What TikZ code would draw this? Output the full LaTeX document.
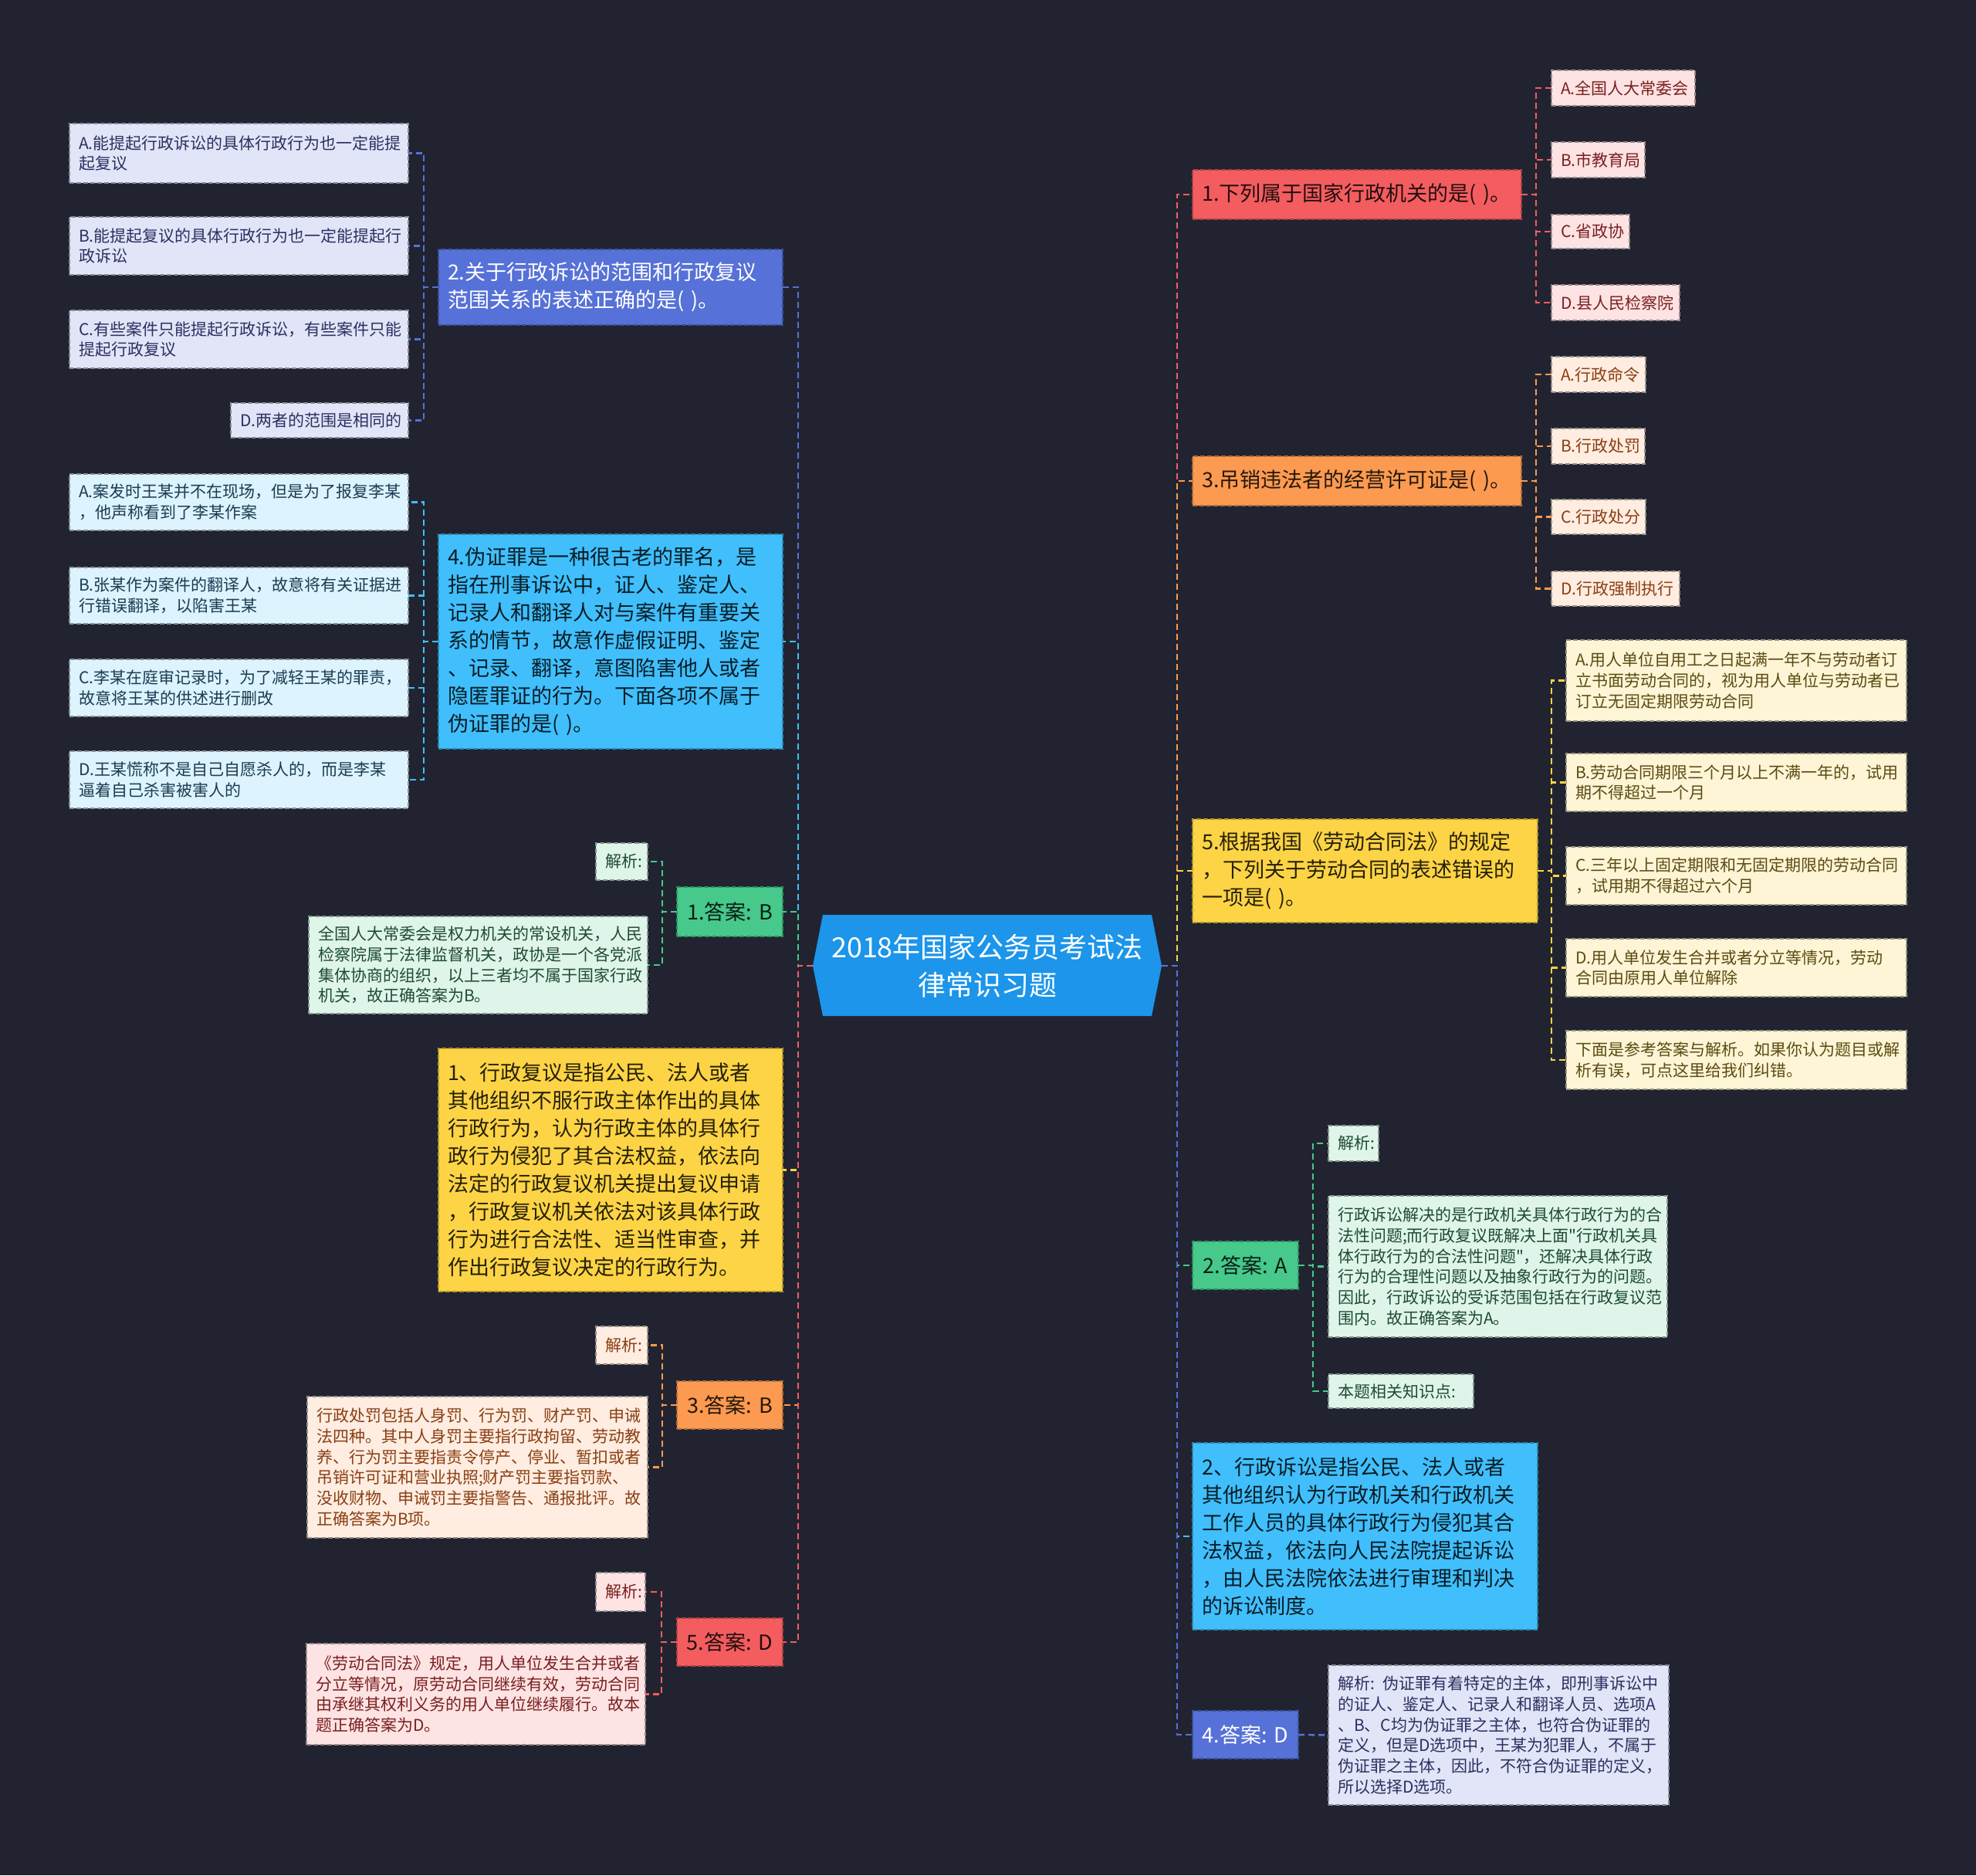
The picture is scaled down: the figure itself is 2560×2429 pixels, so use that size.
\documentclass[tikz,border=0pt]{standalone}
\usepackage{fontspec}
\setmainfont{Noto Sans CJK SC}
\newfontfamily\qfont{Noto Sans CJK SC}
\usetikzlibrary{calc}
\definecolor{bg}{HTML}{212430}
\definecolor{cRoot}{HTML}{1C95EA}
\definecolor{cRed}{HTML}{F35D60}
\definecolor{cOrange}{HTML}{FB9A50}
\definecolor{cYellow}{HTML}{FDD445}
\definecolor{cGreen}{HTML}{46C98B}
\definecolor{cCyan}{HTML}{40BFFC}
\definecolor{cBlue}{HTML}{5671D7}
\definecolor{lRed}{HTML}{FDE3E3}
\definecolor{tRed}{HTML}{7A1F1F}
\definecolor{lOrange}{HTML}{FEEDE0}
\definecolor{tOrange}{HTML}{8A3E14}
\definecolor{lYellow}{HTML}{FDF5D5}
\definecolor{tYellow}{HTML}{5C4A12}
\definecolor{lGreen}{HTML}{DFF5EA}
\definecolor{tGreen}{HTML}{1F4A35}
\definecolor{lCyan}{HTML}{DDF3FD}
\definecolor{tCyan}{HTML}{1B3C52}
\definecolor{lBlue}{HTML}{E1E5F7}
\definecolor{tBlue}{HTML}{2C3060}
\tikzset{
  basebox/.style={rectangle, inner xsep=12pt, inner ysep=0pt, outer sep=0pt,
    align=left, dash pattern=on 6pt off 3pt, line width=1.5pt},
  mainbox/.style 2 args={basebox, fill=#1, draw=#1!70!black, text=#2,
    font=\fontsize{27}{36}\selectfont},
  ansbox/.style 2 args={mainbox={#1}{#2}, align=center},
  subbox/.style 2 args={basebox, fill=#1, draw=#1!60!black, text=#2,
    font=\fontsize{21}{26.7}\selectfont},
  conn/.style={line width=2.5pt, dash pattern=on 8pt off 5pt, draw=#1},
}
\newcommand\mkbox[7]{%
  \pgfmathsetmacro\bw{#5-#3}\pgfmathsetmacro\bh{#6-#4}\pgfmathsetmacro\tw{#5-#3-24}%
  \node[#2,anchor=north west,minimum width=\bw pt,minimum height=\bh pt,text width=\tw pt] (#1) at (#3,#4) {#7};}
\begin{document}
\begin{tikzpicture}[x=1pt,y=-1pt]
\fill[bg] (0,0) rectangle (2560,2429);
\useasboundingbox (0,0) rectangle (2560,2429);
% root
\coordinate (rootL) at (1053,1251);
\coordinate (rootR) at (1505,1251);
\fill[cRoot] (rootL) -- (1066,1185) -- (1492,1185) -- (rootR) -- (1492,1316) -- (1066,1316) -- cycle;
\node[text=white, align=center, font=\fontsize{36}{49}\selectfont] (root) at (1279,1251) {2018年国家公务员考试法\\律常识习题};

% ---------- left side ----------
\mkbox{Q2}{mainbox={cBlue}{white}}{568}{323}{1014}{421}{2.关于行政诉讼的范围和行政复议\\范围关系的表述正确的是( )。}
\mkbox{Q2A}{subbox={lBlue}{tBlue}}{90}{160}{529}{237}{A.能提起行政诉讼的具体行政行为也一定能提\\起复议}
\mkbox{Q2B}{subbox={lBlue}{tBlue}}{90}{281}{529}{356}{B.能提起复议的具体行政行为也一定能提起行\\政诉讼}
\mkbox{Q2C}{subbox={lBlue}{tBlue}}{90}{402}{529}{477}{C.有些案件只能提起行政诉讼，有些案件只能\\提起行政复议}
\mkbox{Q2D}{subbox={lBlue}{tBlue}}{299}{522}{529}{567}{D.两者的范围是相同的}

\mkbox{Q4}{mainbox={cCyan}{cCyan!15!black}}{568}{692}{1014}{970}{4.伪证罪是一种很古老的罪名，是\\指在刑事诉讼中，证人、鉴定人、\\记录人和翻译人对与案件有重要关\\系的情节，故意作虚假证明、鉴定\\、记录、翻译，意图陷害他人或者\\隐匿罪证的行为。下面各项不属于\\伪证罪的是( )。}
\mkbox{Q4A}{subbox={lCyan}{tCyan}}{90}{614}{529}{687}{A.案发时王某并不在现场，但是为了报复李某\\，他声称看到了李某作案}
\mkbox{Q4B}{subbox={lCyan}{tCyan}}{90}{735}{529}{808}{B.张某作为案件的翻译人，故意将有关证据进\\行错误翻译，以陷害王某}
\mkbox{Q4C}{subbox={lCyan}{tCyan}}{90}{854}{529}{928}{C.李某在庭审记录时，为了减轻王某的罪责，\\故意将王某的供述进行删改}
\mkbox{Q4D}{subbox={lCyan}{tCyan}}{90}{973}{529}{1047}{D.王某慌称不是自己自愿杀人的，而是李某\\逼着自己杀害被害人的}

\mkbox{A1}{ansbox={cGreen}{cGreen!15!black}}{877}{1149}{1014}{1213}{1.答案:~B}
\mkbox{A1a}{subbox={lGreen}{tGreen}}{772}{1092}{839}{1140}{解析:}
\mkbox{A1b}{subbox={lGreen}{tGreen}}{400}{1187}{839}{1313}{全国人大常委会是权力机关的常设机关，人民\\检察院属于法律监督机关，政协是一个各党派\\集体协商的组织，以上三者均不属于国家行政\\机关，故正确答案为B。}

\mkbox{Y1}{mainbox={cYellow}{cYellow!15!black}}{568}{1358}{1014}{1673}{1、行政复议是指公民、法人或者\\其他组织不服行政主体作出的具体\\行政行为，认为行政主体的具体行\\政行为侵犯了其合法权益，依法向\\法定的行政复议机关提出复议申请\\，行政复议机关依法对该具体行政\\行为进行合法性、适当性审查，并\\作出行政复议决定的行政行为。}

\mkbox{A3}{ansbox={cOrange}{cOrange!15!black}}{877}{1789}{1014}{1851}{3.答案:~B}
\mkbox{A3a}{subbox={lOrange}{tOrange}}{772}{1718}{839}{1767}{解析:}
\mkbox{A3b}{subbox={lOrange}{tOrange}}{398}{1809}{839}{1992}{行政处罚包括人身罚、行为罚、财产罚、申诫\\法四种。其中人身罚主要指行政拘留、劳动教\\养、行为罚主要指责令停产、停业、暂扣或者\\吊销许可证和营业执照;财产罚主要指罚款、\\没收财物、申诫罚主要指警告、通报批评。故\\正确答案为B项。}

\mkbox{A5}{ansbox={cRed}{cRed!15!black}}{877}{2096}{1014}{2158}{5.答案:~D}
\mkbox{A5a}{subbox={lRed}{tRed}}{772}{2037}{836}{2087}{解析:}
\mkbox{A5b}{subbox={lRed}{tRed}}{397}{2129}{836}{2260}{《劳动合同法》规定，用人单位发生合并或者\\分立等情况，原劳动合同继续有效，劳动合同\\由承继其权利义务的用人单位继续履行。故本\\题正确答案为D。}

% ---------- right side ----------
\mkbox{Q1}{mainbox={cRed}{cRed!15!black}}{1545}{220}{1971}{284}{1.下列属于国家行政机关的是( )。}
\mkbox{Q1A}{subbox={lRed}{tRed}}{2010}{91}{2196}{137}{A.全国人大常委会}
\mkbox{Q1B}{subbox={lRed}{tRed}}{2010}{184}{2131}{230}{B.市教育局}
\mkbox{Q1C}{subbox={lRed}{tRed}}{2010}{278}{2111}{322}{C.省政协}
\mkbox{Q1D}{subbox={lRed}{tRed}}{2010}{369}{2176}{415}{D.县人民检察院}

\mkbox{Q3}{mainbox={cOrange}{cOrange!15!black}}{1545}{591}{1971}{655}{3.吊销违法者的经营许可证是( )。}
\mkbox{Q3A}{subbox={lOrange}{tOrange}}{2010}{462}{2132}{508}{A.行政命令}
\mkbox{Q3B}{subbox={lOrange}{tOrange}}{2010}{555}{2131}{601}{B.行政处罚}
\mkbox{Q3C}{subbox={lOrange}{tOrange}}{2010}{647}{2132}{692}{C.行政处分}
\mkbox{Q3D}{subbox={lOrange}{tOrange}}{2010}{740}{2176}{785}{D.行政强制执行}

\mkbox{Q5}{mainbox={cYellow}{cYellow!15!black}}{1545}{1061}{1992}{1195}{5.根据我国《劳动合同法》的规定\\，下列关于劳动合同的表述错误的\\一项是( )。}
\mkbox{Q5A}{subbox={lYellow}{tYellow}}{2029}{829}{2470}{934}{A.用人单位自用工之日起满一年不与劳动者订\\立书面劳动合同的，视为用人单位与劳动者已\\订立无固定期限劳动合同}
\mkbox{Q5B}{subbox={lYellow}{tYellow}}{2029}{976}{2470}{1051}{B.劳动合同期限三个月以上不满一年的，试用\\期不得超过一个月}
\mkbox{Q5C}{subbox={lYellow}{tYellow}}{2029}{1097}{2470}{1172}{C.三年以上固定期限和无固定期限的劳动合同\\，试用期不得超过六个月}
\mkbox{Q5D}{subbox={lYellow}{tYellow}}{2029}{1216}{2470}{1291}{D.用人单位发生合并或者分立等情况，劳动\\合同由原用人单位解除}
\mkbox{Q5E}{subbox={lYellow}{tYellow}}{2029}{1335}{2470}{1411}{下面是参考答案与解析。如果你认为题目或解\\析有误，可点这里给我们纠错。}

\mkbox{A2}{ansbox={cGreen}{cGreen!15!black}}{1545}{1608}{1682}{1670}{2.答案:~A}
\mkbox{A2a}{subbox={lGreen}{tGreen}}{1721}{1458}{1786}{1504}{解析:}
\mkbox{A2b}{subbox={lGreen}{tGreen}}{1721}{1549}{2160}{1732}{行政诉讼解决的是行政机关具体行政行为的合\\法性问题;而行政复议既解决上面{\qfont"}行政机关具\\体行政行为的合法性问题{\qfont"}，还解决具体行政\\行为的合理性问题以及抽象行政行为的问题。\\因此，行政诉讼的受诉范围包括在行政复议范\\围内。故正确答案为A。}
\mkbox{A2c}{subbox={lGreen}{tGreen}}{1721}{1780}{1909}{1824}{本题相关知识点:}

\mkbox{B2}{mainbox={cCyan}{cCyan!15!black}}{1545}{1869}{1992}{2111}{2、行政诉讼是指公民、法人或者\\其他组织认为行政机关和行政机关\\工作人员的具体行政行为侵犯其合\\法权益，依法向人民法院提起诉讼\\，由人民法院依法进行审理和判决\\的诉讼制度。}

\mkbox{A4}{ansbox={cBlue}{white}}{1545}{2216}{1682}{2278}{4.答案:~D}
\mkbox{A4b}{subbox={lBlue}{tBlue}}{1721}{2157}{2162}{2338}{解析: 伪证罪有着特定的主体，即刑事诉讼中\\的证人、鉴定人、记录人和翻译人员、选项A\\、B、C均为伪证罪之主体，也符合伪证罪的\\定义，但是D选项中，王某为犯罪人，不属于\\伪证罪之主体，因此，不符合伪证罪的定义，\\所以选择D选项。}

% ---------- connectors: root to left branches ----------
\draw[conn=cBlue]   (rootL) -- ([xshift=-19pt]rootL) |- (Q2.east);
\draw[conn=cCyan]   (rootL) -- ([xshift=-19pt]rootL) |- (Q4.east);
\draw[conn=cGreen]  (rootL) -- ([xshift=-19pt]rootL) |- (A1.east);
\draw[conn=cYellow] (rootL) -- ([xshift=-19pt]rootL) |- (Y1.east);
\draw[conn=cOrange] (rootL) -- ([xshift=-19pt]rootL) |- (A3.east);
\draw[conn=cRed]    (rootL) -- ([xshift=-19pt]rootL) |- (A5.east);
% root to right branches
\draw[conn=cRed]    (rootR) -- ([xshift=20pt]rootR) |- (Q1.west);
\draw[conn=cOrange] (rootR) -- ([xshift=20pt]rootR) |- (Q3.west);
\draw[conn=cYellow] (rootR) -- ([xshift=20pt]rootR) |- (Q5.west);
\draw[conn=cGreen]  (rootR) -- ([xshift=20pt]rootR) |- (A2.west);
\draw[conn=cCyan]   (rootR) -- ([xshift=20pt]rootR) |- (B2.west);
\draw[conn=cBlue]   (rootR) -- ([xshift=20pt]rootR) |- (A4.west);

% ---------- sub connectors ----------
\foreach \c in {Q2A,Q2B,Q2C,Q2D}
  \draw[conn=cBlue] (Q2.west) -- ([xshift=-19pt]Q2.west) |- (\c.east);
\foreach \c in {Q4A,Q4B,Q4C,Q4D}
  \draw[conn=cCyan] (Q4.west) -- ([xshift=-19pt]Q4.west) |- (\c.east);
\foreach \c in {A1a,A1b}
  \draw[conn=cGreen] (A1.west) -- ([xshift=-19pt]A1.west) |- (\c.east);
\foreach \c in {A3a,A3b}
  \draw[conn=cOrange] (A3.west) -- ([xshift=-19pt]A3.west) |- (\c.east);
\foreach \c in {A5a,A5b}
  \draw[conn=cRed] (A5.west) -- ([xshift=-20pt]A5.west) |- (\c.east);
\foreach \c in {Q1A,Q1B,Q1C,Q1D}
  \draw[conn=cRed] (Q1.east) -- ([xshift=19pt]Q1.east) |- (\c.west);
\foreach \c in {Q3A,Q3B,Q3C,Q3D}
  \draw[conn=cOrange] (Q3.east) -- ([xshift=19pt]Q3.east) |- (\c.west);
\foreach \c in {Q5A,Q5B,Q5C,Q5D,Q5E}
  \draw[conn=cYellow] (Q5.east) -- ([xshift=18pt]Q5.east) |- (\c.west);
\foreach \c in {A2a,A2b,A2c}
  \draw[conn=cGreen] (A2.east) -- ([xshift=19pt]A2.east) |- (\c.west);
\draw[conn=cBlue] (A4.east) -- (A4b.west);
\end{tikzpicture}
\end{document}
